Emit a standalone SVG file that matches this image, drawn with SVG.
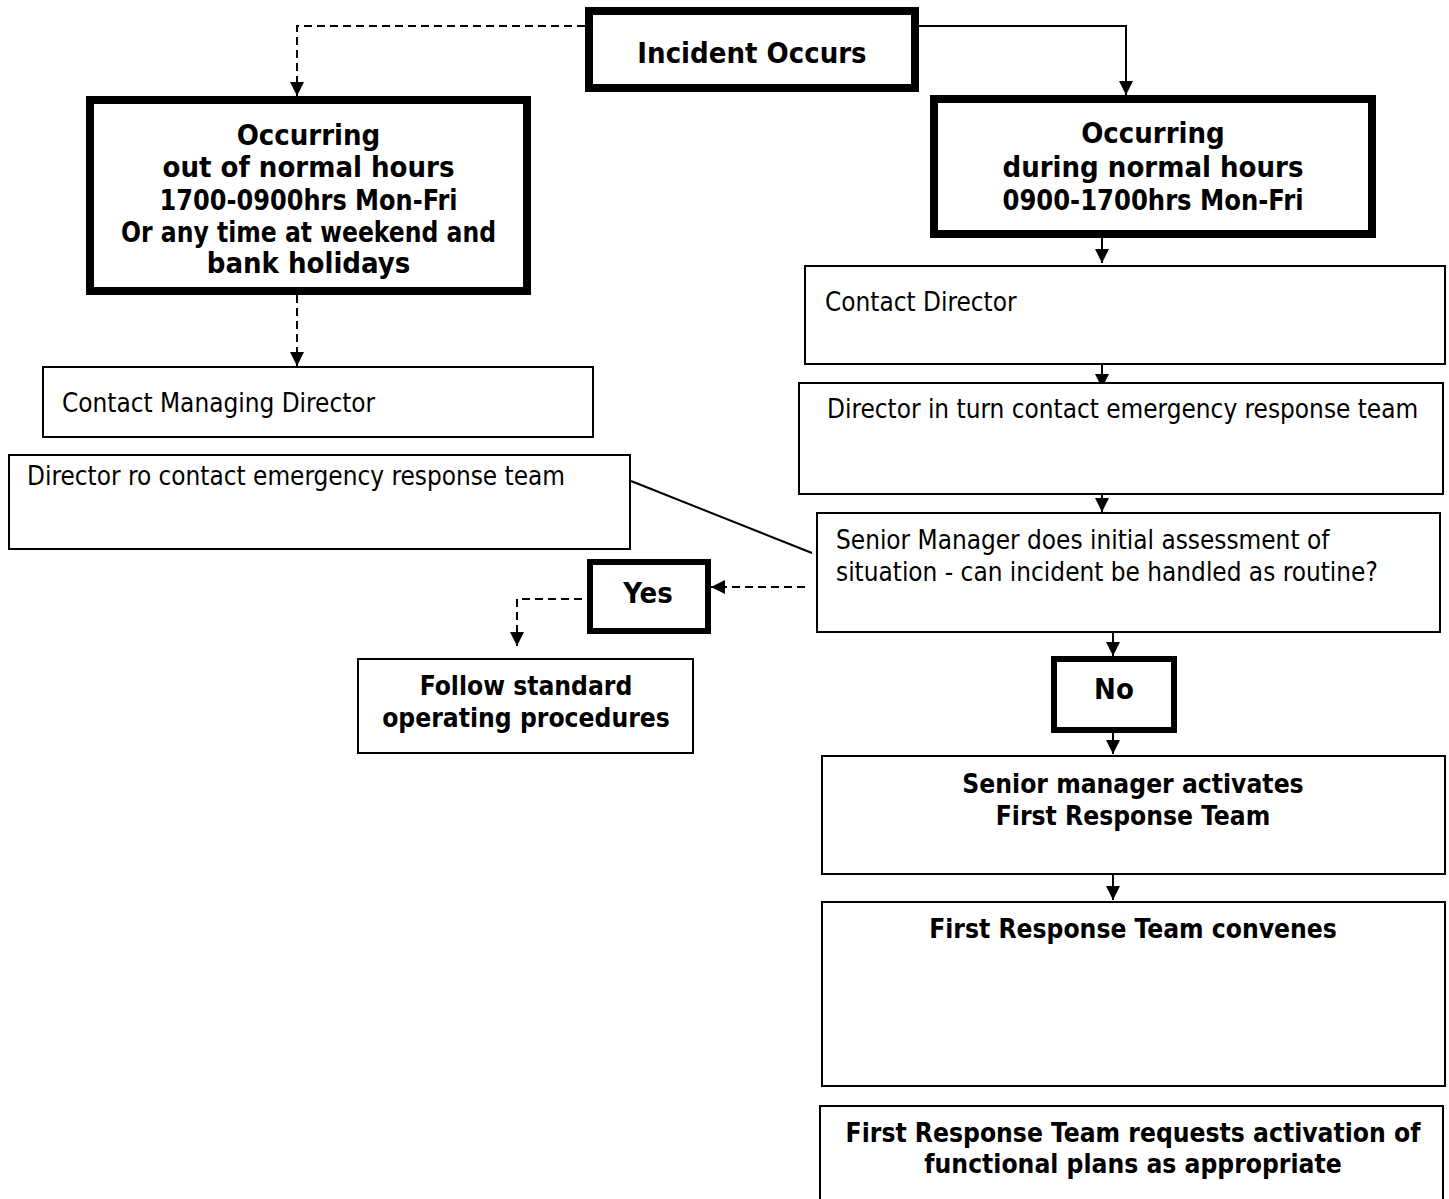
<svg xmlns="http://www.w3.org/2000/svg" width="1449" height="1199" viewBox="0 0 1449 1199">
<style>
.thin{fill:#fff;stroke:#000;stroke-width:2}
.thick{fill:#fff;stroke:#000;stroke-width:8}
.mid{fill:#fff;stroke:#000;stroke-width:6}
.reg{font-family:"DejaVu Sans Condensed","DejaVu Sans",sans-serif;font-size:25.9px;fill:#000}
.bl{font-family:"DejaVu Sans Condensed","DejaVu Sans",sans-serif;font-weight:bold;font-size:29px;fill:#000;text-anchor:middle}
.bs{font-family:"DejaVu Sans Condensed","DejaVu Sans",sans-serif;font-weight:bold;font-size:26.2px;fill:#000;text-anchor:middle}
.ln{fill:none;stroke:#000;stroke-width:2}
.dash{stroke-dasharray:8 5}
</style>
<defs>
<marker id="arr" viewBox="0 0 14 14" refX="14" refY="7" markerWidth="14" markerHeight="14" orient="auto" markerUnits="userSpaceOnUse">
<path d="M0,0 L14,7 L0,14 z" fill="#000"/>
</marker>
</defs>
<rect width="1449" height="1199" fill="#fff"/>
<g id="connectors">
<path class="ln dash" d="M585,26 H297 V96" marker-end="url(#arr)"/>
<path class="ln" d="M919,26 H1126 V95" marker-end="url(#arr)"/>
<path class="ln dash" d="M297,295 V366" marker-end="url(#arr)"/>
<path class="ln" d="M1102,234 V263" marker-end="url(#arr)"/>
<path class="ln" d="M1102,365 V388" marker-end="url(#arr)"/>
<path class="ln" d="M1102,488 V512" marker-end="url(#arr)"/>
<path class="ln" d="M631,481 L812,553"/>
<path class="ln dash" d="M805,587 H711" marker-end="url(#arr)"/>
<path class="ln dash" d="M582,599 H517 V646" marker-end="url(#arr)"/>
<path class="ln" d="M1113,633 V656" marker-end="url(#arr)"/>
<path class="ln" d="M1113,733 V754" marker-end="url(#arr)"/>
<path class="ln" d="M1113,875 V900" marker-end="url(#arr)"/>
</g>
<g id="incident">
<rect class="thick" x="589" y="11" width="326" height="77"/>
<text class="bl" x="752" y="63">Incident Occurs</text>
</g>
<g id="out-hours">
<rect class="thick" x="90" y="100" width="437" height="191"/>
<text class="bl" x="308.5" y="145">Occurring</text>
<text class="bl" x="308.5" y="177">out of normal hours</text>
<text class="bl" x="308.5" y="210" textLength="298" lengthAdjust="spacingAndGlyphs">1700-0900hrs Mon-Fri</text>
<text class="bl" x="308.5" y="242" textLength="375" lengthAdjust="spacingAndGlyphs">Or any time at weekend and</text>
<text class="bl" x="308.5" y="273">bank holidays</text>
</g>
<g id="normal-hours">
<rect class="thick" x="934" y="99" width="438" height="135"/>
<text class="bl" x="1153" y="143">Occurring</text>
<text class="bl" x="1153" y="177">during normal hours</text>
<text class="bl" x="1153" y="210" textLength="301" lengthAdjust="spacingAndGlyphs">0900-1700hrs Mon-Fri</text>
</g>
<g id="contact-md">
<rect class="thin" x="43" y="367" width="550" height="70"/>
<text class="reg" x="62" y="412">Contact Managing Director</text>
</g>
<g id="director-ro">
<rect class="thin" x="9" y="455" width="621" height="94"/>
<text class="reg" x="27" y="485">Director ro contact emergency response team</text>
</g>
<g id="contact-director">
<rect class="thin" x="805" y="266" width="640" height="98"/>
<text class="reg" x="825" y="311">Contact Director</text>
</g>
<g id="director-in-turn">
<rect class="thin" x="799" y="383" width="644" height="111"/>
<text class="reg" x="827" y="418">Director in turn contact emergency response team</text>
</g>
<g id="senior-assess">
<rect class="thin" x="817" y="513" width="623" height="119"/>
<text class="reg" x="836" y="549">Senior Manager does initial assessment of</text>
<text class="reg" x="836" y="581">situation - can incident be handled as routine?</text>
</g>
<g id="yes">
<rect class="mid" x="590" y="562" width="118" height="69"/>
<text class="bl" x="648" y="603">Yes</text>
</g>
<g id="follow">
<rect class="thin" x="358" y="659" width="335" height="94"/>
<text class="bs" x="526" y="695">Follow standard</text>
<text class="bs" x="526" y="727">operating procedures</text>
</g>
<g id="no">
<rect class="mid" x="1054" y="659" width="120" height="71"/>
<text class="bl" x="1114" y="699">No</text>
</g>
<g id="activates">
<rect class="thin" x="822" y="756" width="623" height="118"/>
<text class="bs" x="1133" y="793">Senior manager activates</text>
<text class="bs" x="1133" y="825">First Response Team</text>
</g>
<g id="convenes">
<rect class="thin" x="822" y="902" width="623" height="184"/>
<text class="bs" x="1133" y="938">First Response Team convenes</text>
</g>
<g id="requests">
<rect class="thin" x="820" y="1106" width="623" height="110"/>
<text class="bs" x="1133" y="1142">First Response Team requests activation of</text>
<text class="bs" x="1133" y="1173">functional plans as appropriate</text>
</g>
</svg>
